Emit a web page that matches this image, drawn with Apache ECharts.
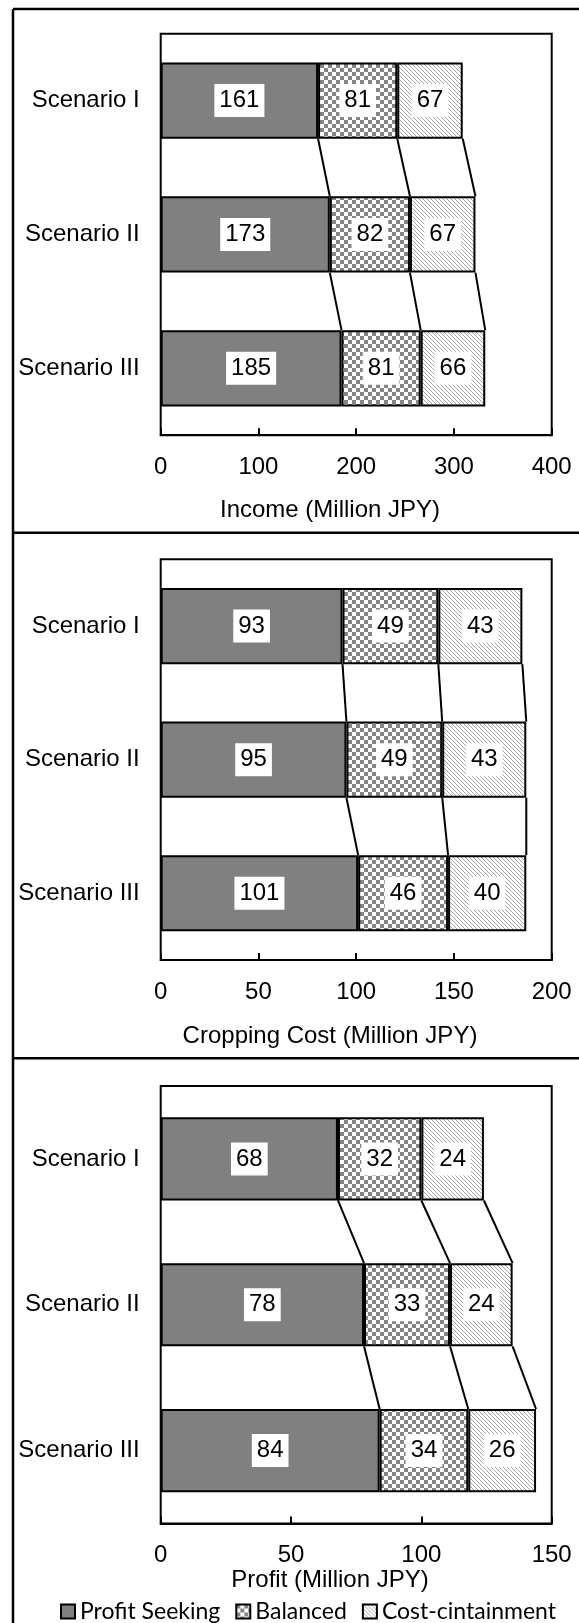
<!DOCTYPE html>
<html><head><meta charset="utf-8">
<script src="https://cdn.jsdelivr.net/npm/echarts@6/dist/echarts.min.js"></script>
<style>html,body{margin:0;padding:0;background:#fff}#c{width:579px;height:1623px}</style>
</head><body><div id="c"></div>
<script>
// ---- data ----
const scenarios = ['Scenario I', 'Scenario II', 'Scenario III'];
const seriesNames = ['Profit Seeking', 'Balanced', 'Cost-cintainment'];
const incomeProfit = [161, 173, 185];
const incomeBalanced = [81, 82, 81];
const incomeCost = [67, 67, 66];
const costProfit = [93, 95, 101];
const costBalanced = [49, 49, 46];
const costCost = [43, 43, 40];
const profitProfit = [68, 78, 84];
const profitBalanced = [32, 33, 34];
const profitCost = [24, 24, 26];
const axisTitles = ['Income (Million JPY)', 'Cropping Cost (Million JPY)', 'Profit (Million JPY)'];
const axisMax = [400, 200, 150];
const axisInterval = [100, 50, 50];

// ---- styles ----
const BAR_RATIO = 0.57;
const FONT = '"Liberation Sans", Arial, sans-serif';
function checker() {
  const c = document.createElement('canvas'); c.width = 8; c.height = 8;
  const g = c.getContext('2d');
  g.fillStyle = '#fff'; g.fillRect(0, 0, 8, 8);
  g.fillStyle = '#858585'; g.fillRect(0, 0, 4, 4); g.fillRect(4, 4, 4, 4);
  return c;
}
function hatch() {
  const c = document.createElement('canvas'); c.width = 4; c.height = 4;
  const g = c.getContext('2d');
  g.fillStyle = '#fff'; g.fillRect(0, 0, 4, 4);
  g.fillStyle = '#a8a8a8';
  for (let i = 0; i < 4; i++) g.fillRect(i, i, 1, 1);
  return c;
}
const fills = ['#808080', { image: checker(), repeat: 'repeat' }, { image: hatch(), repeat: 'repeat' }];

const panels = [
  [incomeProfit, incomeBalanced, incomeCost],
  [costProfit, costBalanced, costCost],
  [profitProfit, profitBalanced, profitCost]
];
const grids = [
  { left: 160.7, width: 391, top: 33.7, height: 401.5 },
  { left: 160.7, width: 391, top: 559.3, height: 400.7 },
  { left: 160.7, width: 391, top: 1086, height: 437.5 }
];
const titleY = [510, 1036.7, 1580];

const xAxes = [], yAxes = [], series = [];
panels.forEach((vals, k) => {
  xAxes.push({
    type: 'value', gridIndex: k, min: 0, max: axisMax[k], interval: axisInterval[k],
    splitLine: { show: false },
    axisLine: { show: true, lineStyle: { color: '#000', width: 2 } },
    axisTick: { show: true, inside: true, length: 7, lineStyle: { color: '#000', width: 2 } },
    axisLabel: { fontSize: 24, color: '#000', fontFamily: FONT, margin: 20 }
  });
  yAxes.push({
    type: 'category', gridIndex: k, data: scenarios, inverse: true,
    axisLine: { show: false }, axisTick: { show: false },
    axisLabel: { fontSize: 24, color: '#000', fontFamily: FONT, margin: 21 }
  });
  vals.forEach((arr, s) => {
    series.push({
      type: 'bar', name: seriesNames[s], xAxisIndex: k, yAxisIndex: k, stack: 'p' + k,
      barWidth: (BAR_RATIO * 100) + '%', data: arr,
      itemStyle: { color: fills[s], borderColor: '#000', borderWidth: 2 },
      label: {
        show: true, position: 'inside', color: '#000', fontSize: 24, fontFamily: FONT,
        backgroundColor: '#fff', padding: [3, 5], lineHeight: 27
      }
    });
  });
  // series lines connecting segment ends between consecutive scenarios
  const links = [];
  for (let i = 0; i < scenarios.length - 1; i++) {
    let a = 0, b = 0;
    for (let s = 0; s < vals.length; s++) {
      a += vals[s][i]; b += vals[s][i + 1];
      links.push([a, i, b]);
    }
  }
  series.push({
    type: 'custom', xAxisIndex: k, yAxisIndex: k, silent: true, z: 5,
    data: links, encode: { x: [0, 2], y: 1 },
    renderItem: function (params, api) {
      const i = api.value(1);
      const p1 = api.coord([api.value(0), i]);
      const p2 = api.coord([api.value(2), i + 1]);
      const half = api.size([0, 1])[1] * BAR_RATIO / 2;
      return {
        type: 'line',
        shape: { x1: p1[0], y1: p1[1] + half, x2: p2[0], y2: p2[1] - half },
        style: { stroke: '#000', lineWidth: 2 }
      };
    }
  });
});

const graphic = [
  { type: 'line', shape: { x1: 13, y1: 9, x2: 13, y2: 1623 }, style: { stroke: '#000', lineWidth: 2.5 } },
  { type: 'line', shape: { x1: 13, y1: 9, x2: 579, y2: 9 }, style: { stroke: '#000', lineWidth: 2.5 } },
  { type: 'line', shape: { x1: 13, y1: 532.7, x2: 579, y2: 532.7 }, style: { stroke: '#000', lineWidth: 2.5 } },
  { type: 'line', shape: { x1: 13, y1: 1058.3, x2: 579, y2: 1058.3 }, style: { stroke: '#000', lineWidth: 2.5 } }
];
axisTitles.forEach((t, k) => {
  graphic.push({
    type: 'text', x: 330, y: titleY[k],
    style: { text: t, font: '24px ' + FONT, fill: '#000', textAlign: 'center', textVerticalAlign: 'middle' }
  });
});

const chart = echarts.init(document.getElementById('c'), null, { renderer: 'canvas' });
chart.setOption({
  animation: false,
  backgroundColor: '#fff',
  grid: grids.map(g => Object.assign({ show: true, borderColor: '#000', borderWidth: 2, backgroundColor: 'transparent' }, g)),
  xAxis: xAxes,
  yAxis: yAxes,
  legend: {
    data: seriesNames, left: 55, top: 1595, icon: 'rect',
    itemWidth: 14, itemHeight: 14, itemGap: 15,
    textStyle: { fontFamily: 'Lato, "Open Sans", sans-serif', fontSize: 23, color: '#000' }
  },
  graphic: graphic,
  series: series
});
</script></body></html>
